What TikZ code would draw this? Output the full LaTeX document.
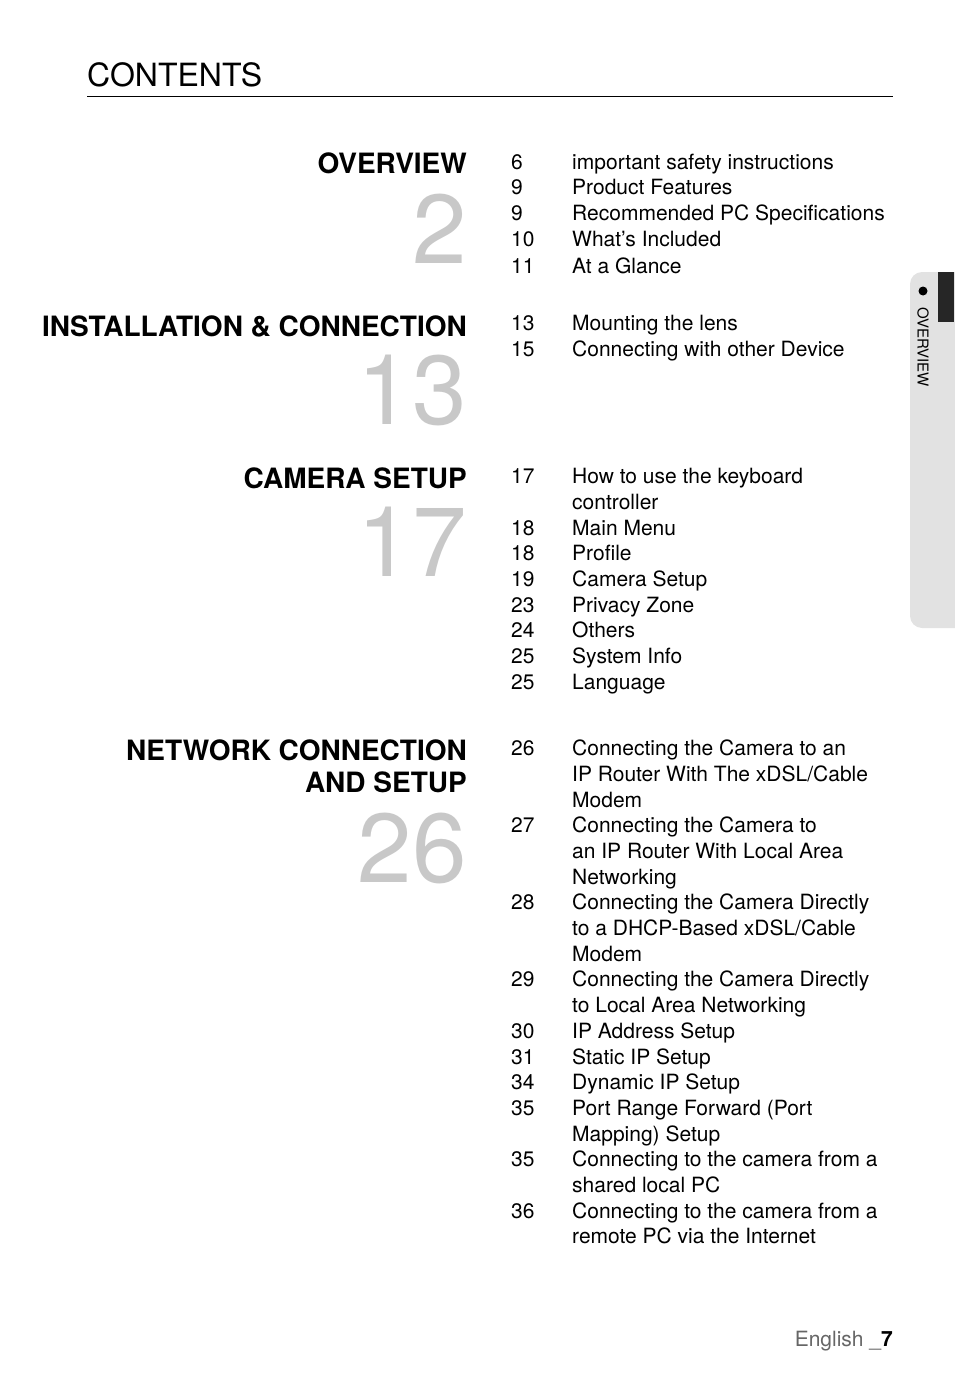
\documentclass[tikz,border=0pt]{standalone}
\usepackage{fontspec}
\setmainfont{TeX Gyre Heros}
\usepackage{tikz}
\definecolor{tabgray}{RGB}{226,226,226}
\definecolor{bignum}{RGB}{200,200,200}
\tikzset{
  entry/.style={anchor=base west, inner sep=0pt, font=\fontsize{21}{25}\selectfont},
  section/.style={anchor=base east, inner sep=0pt, font=\fontsize{28}{33}\selectfont\bfseries},
  bigno/.style={anchor=base east, inner sep=0pt, text=bignum, font=\fontsize{98}{98}\selectfont},
}
\begin{document}
\begin{tikzpicture}[x=1pt,y=-1pt]
    \useasboundingbox (0,0) rectangle (954,1388);
    % header
    \node[anchor=base west, inner sep=0pt, font=\fontsize{32}{36}\selectfont] (title) at (87,87) {CONTENTS};
    \draw[line width=0.8pt] (87,96) -- (893,96);
    % side tab
    \fill[tabgray, rounded corners=12pt] (910,272) rectangle (975,628);
    \fill[black!85] (938,272) rectangle (954,322);
    \fill (923,291) circle (4.5);
    \node[rotate=-90, anchor=west, inner sep=0pt, font=\fontsize{15}{15}\selectfont] (tab) at (923,307) {OVERVIEW};
    % sections
    \node[section] (s1) at (467,174) {OVERVIEW};
    \node[bigno] (n1) at (467,263) {2};
    \node[section] (s2) at (467,336) {INSTALLATION \& CONNECTION};
    \node[bigno] (n2) at (467,424) {13};
    \node[section] (s3) at (467,488) {CAMERA SETUP};
    \node[bigno] (n3) at (467,576) {17};
    \node[section] (s4) at (467,760) {NETWORK CONNECTION};
    \node[section] (s5) at (467,792) {AND SETUP};
    \node[bigno] (n4) at (467,882) {26};
    % entries
    \foreach \y/\p/\t [count=\i] in {
        170/6/important safety instructions,
        195/9/Product Features,
        221/9/Recommended PC Specifications,
        247/10/What’s Included,
        273/11/At a Glance,
        330/13/Mounting the lens,
        356/15/Connecting with other Device,
        483/17/How to use the keyboard,
        509//controller,
        535/18/Main Menu,
        560/18/Profile,
        586/19/Camera Setup,
        612/23/Privacy Zone,
        637/24/Others,
        663/25/System Info,
        689/25/Language,
        755/26/Connecting the Camera to an,
        781//{IP Router With The xDSL/Cable},
        807//Modem,
        832/27/Connecting the Camera to,
        858//an IP Router With Local Area,
        884//Networking,
        909/28/Connecting the Camera Directly,
        935//{to a DHCP-Based xDSL/Cable},
        961//Modem,
        986/29/Connecting the Camera Directly,
        1012//to Local Area Networking,
        1038/30/IP Address Setup,
        1064/31/Static IP Setup,
        1089/34/Dynamic IP Setup,
        1115/35/Port Range Forward (Port,
        1141//Mapping) Setup,
        1166/35/Connecting to the camera from a,
        1192//shared local PC,
        1218/36/Connecting to the camera from a,
        1243//remote PC via the Internet}
    {
        \node[entry] (p\i) at (511,\y) {\p};
        \node[entry] (e\i) at (572,\y) {\t};
    }
    % footer
    \node[anchor=base east, inner sep=0pt, font=\fontsize{21}{25}\selectfont] (foot) at (893,1346) {\textcolor{black!60}{English \_}\textbf{7}};
\end{tikzpicture}
\end{document}
